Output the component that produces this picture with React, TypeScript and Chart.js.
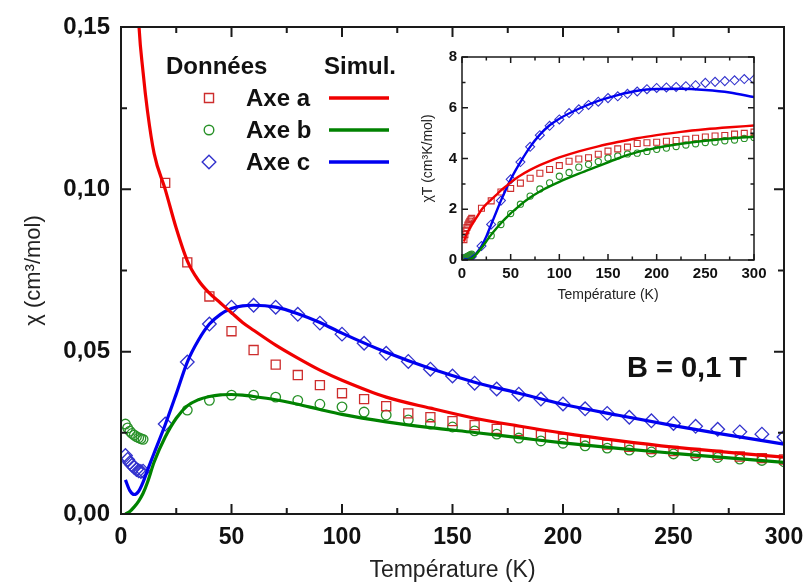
import React, { useEffect, useRef } from 'react';
import { Chart, registerables } from 'chart.js';

Chart.register(...registerables);

const FONT = "Arial, 'Liberation Sans', Helvetica, sans-serif";

// ---------- Main plot: chi (cm3/mol) vs T (K) ----------
const tempLow = [2, 3, 4, 5, 6, 7, 8, 9, 10];
const tempFrom20 = [20, 30, 40, 50, 60, 70, 80, 90, 100, 110, 120, 130, 140, 150, 160, 170, 180, 190, 200, 210, 220, 230, 240, 250, 260, 270, 280, 290, 300];
const tempFrom30 = [30, 40, 50, 60, 70, 80, 90, 100, 110, 120, 130, 140, 150, 160, 170, 180, 190, 200, 210, 220, 230, 240, 250, 260, 270, 280, 290, 300];

// Axe a (data) – only T >= 20 visible in main plot
const chiA = [0.102, 0.0775, 0.067, 0.0563, 0.0505, 0.046, 0.0428, 0.0397, 0.0372, 0.0354, 0.0332, 0.031, 0.0298, 0.0286, 0.0274, 0.0262, 0.0255, 0.0243, 0.0232, 0.0223, 0.0214, 0.0207, 0.02, 0.0194, 0.0188, 0.0182, 0.0177, 0.0172, 0.0168];
// Axe b (data)
const chiBLow = [0.0277, 0.0265, 0.0255, 0.0248, 0.0243, 0.0238, 0.0235, 0.0232, 0.023];
const chiB = [0.032, 0.035, 0.0366, 0.0366, 0.036, 0.035, 0.0338, 0.033, 0.0314, 0.0305, 0.029, 0.0277, 0.0268, 0.0256, 0.0246, 0.0234, 0.0225, 0.0218, 0.021, 0.0203, 0.0197, 0.0191, 0.0185, 0.0179, 0.0174, 0.0169, 0.0165, 0.0161];
// Axe c (data)
const chiCLow = [0.018, 0.0168, 0.0158, 0.015, 0.0143, 0.0137, 0.0133, 0.0131, 0.0132];
const chiC = [0.0277, 0.0468, 0.0585, 0.0637, 0.0643, 0.0637, 0.0615, 0.0588, 0.0554, 0.0526, 0.0495, 0.047, 0.0446, 0.0425, 0.0403, 0.0385, 0.0369, 0.0354, 0.0339, 0.0324, 0.031, 0.0298, 0.0287, 0.0279, 0.027, 0.0261, 0.0253, 0.0246, 0.0237];

// Simulations
const tempSim = [2, 4, 6, 8, 10, 12, 15, 20, 25, 30, 35, 40, 45, 50, 55, 60, 70, 80, 90, 100, 120, 140, 160, 180, 200, 225, 250, 275, 300];
const simChiA = [0.37, 0.26, 0.19, 0.152, 0.136, 0.124, 0.111, 0.1, 0.088, 0.078, 0.072, 0.068, 0.065, 0.062, 0.059, 0.0566, 0.052, 0.048, 0.0443, 0.0412, 0.036, 0.0326, 0.0295, 0.0271, 0.0249, 0.0226, 0.0206, 0.019, 0.0175];
const simChiB = [0.0, 0.0008, 0.0022, 0.004, 0.0064, 0.0098, 0.016, 0.0237, 0.0295, 0.0333, 0.0352, 0.0362, 0.0367, 0.0368, 0.0366, 0.0362, 0.0352, 0.0338, 0.0322, 0.0307, 0.0284, 0.0266, 0.0251, 0.0235, 0.0219, 0.0202, 0.0187, 0.0173, 0.0159];
const simChiC = [0.0105, 0.0072, 0.006, 0.007, 0.0098, 0.0135, 0.0188, 0.0275, 0.037, 0.0468, 0.0535, 0.0585, 0.0615, 0.0633, 0.0641, 0.0643, 0.0637, 0.0617, 0.059, 0.0557, 0.0498, 0.0448, 0.0406, 0.0372, 0.0338, 0.0304, 0.0272, 0.0243, 0.0215];

const mainXTicks = [0, 50, 100, 150, 200, 250, 300];
const mainXMinor = [25, 75, 125, 175, 225, 275];
const mainYTicks = [0, 0.05, 0.1, 0.15];
const mainYMinor = [0.025, 0.075, 0.125];

// ---------- Inset: chiT (cm3 K/mol) vs T ----------
const chiTALow = [0.8, 1.0, 1.15, 1.28, 1.38, 1.46, 1.53, 1.59, 1.64];
const chiTA = [2.04, 2.33, 2.68, 2.82, 3.03, 3.22, 3.42, 3.57, 3.72, 3.89, 3.98, 4.03, 4.17, 4.29, 4.38, 4.45, 4.59, 4.62, 4.64, 4.68, 4.71, 4.76, 4.8, 4.85, 4.89, 4.91, 4.96, 4.99, 5.04];
const chiTBLow = [0.055, 0.08, 0.1, 0.124, 0.146, 0.167, 0.188, 0.209, 0.23];
const chiTB = [0.96, 1.4, 1.83, 2.2, 2.52, 2.8, 3.04, 3.3, 3.45, 3.66, 3.77, 3.88, 4.02, 4.1, 4.18, 4.21, 4.28, 4.36, 4.41, 4.47, 4.53, 4.58, 4.63, 4.65, 4.7, 4.73, 4.79, 4.83];
const chiTCLow = [0.036, 0.05, 0.062, 0.074, 0.086, 0.096, 0.106, 0.118, 0.132];
const chiTC = [0.55, 1.4, 2.34, 3.18, 3.86, 4.46, 4.92, 5.29, 5.54, 5.79, 5.94, 6.11, 6.24, 6.38, 6.45, 6.55, 6.64, 6.73, 6.78, 6.8, 6.82, 6.85, 6.89, 6.98, 7.02, 7.05, 7.08, 7.13, 7.11];

const simChiTA = [0.72, 0.95, 1.12, 1.25, 1.38, 1.5, 1.68, 1.98, 2.2, 2.38, 2.56, 2.74, 2.9, 3.06, 3.2, 3.33, 3.55, 3.74, 3.9, 4.04, 4.28, 4.48, 4.65, 4.8, 4.92, 5.05, 5.15, 5.23, 5.3];
const simChiTB = [0.0, 0.003, 0.013, 0.032, 0.064, 0.118, 0.24, 0.47, 0.74, 1.0, 1.23, 1.45, 1.65, 1.84, 2.0, 2.17, 2.46, 2.7, 2.9, 3.08, 3.4, 3.7, 4.0, 4.25, 4.42, 4.58, 4.7, 4.79, 4.86];
const simChiTC = [0.02, 0.03, 0.036, 0.054, 0.098, 0.16, 0.28, 0.55, 0.93, 1.4, 1.87, 2.34, 2.77, 3.17, 3.53, 3.86, 4.46, 4.94, 5.31, 5.57, 5.96, 6.27, 6.5, 6.67, 6.74, 6.75, 6.7, 6.6, 6.42];

const insetXTicks = [0, 50, 100, 150, 200, 250, 300];
const insetXMinor = [25, 75, 125, 175, 225, 275];
const insetYTicks = [0, 2, 4, 6, 8];
const insetYMinor = [1, 3, 5, 7];

const legendLabels = ['Axe a', 'Axe b', 'Axe c'];

// colours
const RED_PT = 'rgb(205,45,45)';
const RED_LN = 'rgb(240,0,0)';
const GREEN_PT = 'rgb(40,145,40)';
const GREEN_LN = 'rgb(0,130,0)';
const BLUE_PT = 'rgb(50,50,205)';
const BLUE_LN = 'rgb(0,0,240)';

const pts = (xs: number[], ys: number[]) => xs.map((x, i) => ({ x, y: ys[i] }));

function framePlugin(cfg: { xMinor: number[]; yMinor: number[]; major: number; minor: number; lw: number }) {
  return {
    id: 'frameTicks',
    afterDatasetsDraw(chart: any) {
      const { ctx, chartArea, scales } = chart;
      const { left, right, top, bottom } = chartArea;
      const xs = scales.x;
      const ys = scales.y;
      ctx.save();
      ctx.strokeStyle = '#1a1a1a';
      ctx.lineWidth = cfg.lw;
      ctx.beginPath();
      const xTick = (v: number, len: number) => {
        const p = xs.getPixelForValue(v);
        ctx.moveTo(p, bottom);
        ctx.lineTo(p, bottom - len);
        ctx.moveTo(p, top);
        ctx.lineTo(p, top + len);
      };
      const yTick = (v: number, len: number) => {
        const p = ys.getPixelForValue(v);
        ctx.moveTo(left, p);
        ctx.lineTo(left + len, p);
        ctx.moveTo(right, p);
        ctx.lineTo(right - len, p);
      };
      xs.ticks.forEach((t: any) => xTick(t.value, cfg.major));
      cfg.xMinor.forEach((v) => xTick(v, cfg.minor));
      ys.ticks.forEach((t: any) => yTick(t.value, cfg.major));
      cfg.yMinor.forEach((v) => yTick(v, cfg.minor));
      ctx.stroke();
      ctx.strokeRect(left, top, right - left, bottom - top);
      ctx.restore();
    },
  };
}

function drawMarker(ctx: CanvasRenderingContext2D, style: string, x: number, y: number, r: number) {
  ctx.beginPath();
  if (style === 'rect') {
    const s = r * Math.SQRT1_2;
    ctx.rect(x - s, y - s, 2 * s, 2 * s);
  } else if (style === 'circle') {
    ctx.arc(x, y, r, 0, Math.PI * 2);
  } else {
    ctx.moveTo(x, y - r);
    ctx.lineTo(x + r, y);
    ctx.lineTo(x, y + r);
    ctx.lineTo(x - r, y);
    ctx.closePath();
  }
  ctx.stroke();
}

const legendPlugin = {
  id: 'customLegend',
  afterDraw(chart: any) {
    const ctx: CanvasRenderingContext2D = chart.ctx;
    ctx.save();
    ctx.fillStyle = '#111';
    ctx.textBaseline = 'alphabetic';
    ctx.font = `bold 24px ${FONT}`;
    ctx.textAlign = 'left';
    ctx.fillText('Données', 166, 74);
    ctx.fillText('Simul.', 324, 74);
    const rows = [
      { y: 98, style: 'rect', pc: RED_PT, lc: RED_LN, r: 6.4 },
      { y: 130, style: 'circle', pc: GREEN_PT, lc: GREEN_LN, r: 4.8 },
      { y: 162, style: 'rectRot', pc: BLUE_PT, lc: BLUE_LN, r: 6.8 },
    ];
    rows.forEach((row, i) => {
      ctx.fillStyle = '#111';
      ctx.font = `bold 24px ${FONT}`;
      ctx.fillText(legendLabels[i], 246, row.y + 8);
      ctx.strokeStyle = row.pc;
      ctx.lineWidth = 1.4;
      drawMarker(ctx, row.style, 209, row.y, row.r);
      ctx.strokeStyle = row.lc;
      ctx.lineWidth = 3.5;
      ctx.beginPath();
      ctx.moveTo(329, row.y);
      ctx.lineTo(389, row.y);
      ctx.stroke();
    });
    ctx.fillStyle = '#111';
    ctx.font = `bold 29px ${FONT}`;
    ctx.fillText('B = 0,1 T', 627, 377);
    ctx.restore();
  },
};

function lineDs(data: any[], color: string, width: number) {
  return {
    type: 'line' as const,
    data,
    borderColor: color,
    borderWidth: width,
    pointRadius: 0,
    showLine: true,
    fill: false,
    cubicInterpolationMode: 'monotone' as const,
    clip: 0,
  };
}

function pointDs(data: any[], color: string, style: string, r: number, bw: number) {
  return {
    type: 'scatter' as const,
    data,
    showLine: false,
    pointStyle: style,
    pointRadius: r,
    pointBorderWidth: bw,
    pointBorderColor: color,
    pointBackgroundColor: 'rgba(0,0,0,0)',
    borderColor: color,
    backgroundColor: 'rgba(0,0,0,0)',
    clip: 0,
  };
}

export default function App() {
  const mainRef = useRef<HTMLCanvasElement | null>(null);
  const insetRef = useRef<HTMLCanvasElement | null>(null);

  useEffect(() => {
    const mainChart = new Chart(mainRef.current as HTMLCanvasElement, {
      type: 'scatter',
      data: {
        datasets: [
          lineDs(pts(tempSim, simChiA), RED_LN, 3.2),
          lineDs(pts(tempSim, simChiB), GREEN_LN, 3.2),
          lineDs(pts(tempSim, simChiC), BLUE_LN, 3.2),
          pointDs(pts(tempFrom20, chiA), RED_PT, 'rect', 6.4, 1.3),
          pointDs(pts(tempLow, chiBLow).concat(pts(tempFrom30, chiB)), GREEN_PT, 'circle', 4.8, 1.3),
          pointDs(pts(tempLow, chiCLow).concat(pts(tempFrom20, chiC)), BLUE_PT, 'rectRot', 6.8, 1.3),
        ] as any,
      },
      options: {
        responsive: false,
        animation: false,
        devicePixelRatio: 1,
        layout: { padding: { left: 0, right: 22, top: 27, bottom: 0 } },
        plugins: { legend: { display: false }, tooltip: { enabled: false } },
        events: [],
        scales: {
          x: {
            type: 'linear',
            min: 0,
            max: 300,
            afterBuildTicks: (s: any) => {
              s.ticks = mainXTicks.map((v) => ({ value: v }));
            },
            afterFit: (s: any) => {
              s.height = 73;
              s.paddingLeft = 0;
              s.paddingRight = 0;
            },
            grid: { display: false, drawTicks: false },
            border: { display: false },
            ticks: {
              padding: 10,
              color: '#111',
              maxRotation: 0,
              autoSkip: false,
              font: { family: FONT, size: 23, weight: 'bold' },
              callback: (v: any) => String(v),
            },
            title: {
              display: true,
              text: 'Température (K)',
              color: '#222',
              font: { family: FONT, size: 23 },
              padding: { top: 0, bottom: 3 },
            },
          },
          y: {
            type: 'linear',
            min: 0,
            max: 0.15,
            afterBuildTicks: (s: any) => {
              s.ticks = mainYTicks.map((v) => ({ value: v }));
            },
            afterFit: (s: any) => {
              s.width = 121;
              s.paddingTop = 0;
              s.paddingBottom = 0;
            },
            grid: { display: false, drawTicks: false },
            border: { display: false },
            ticks: {
              padding: 11,
              color: '#111',
              autoSkip: false,
              font: { family: FONT, size: 24, weight: 'bold' },
              callback: (v: any) => Number(v).toFixed(2).replace('.', ','),
            },
            title: {
              display: true,
              text: 'χ (cm³/mol)',
              color: '#222',
              font: { family: FONT, size: 22 },
              padding: { top: 21, bottom: 0 },
            },
          },
        },
      } as any,
      plugins: [framePlugin({ xMinor: mainXMinor, yMinor: mainYMinor, major: 10, minor: 6, lw: 2 }), legendPlugin] as any,
    });

    const insetChart = new Chart(insetRef.current as HTMLCanvasElement, {
      type: 'scatter',
      data: {
        datasets: [
          lineDs(pts(tempSim, simChiTA), RED_LN, 2.4),
          lineDs(pts(tempSim, simChiTB), GREEN_LN, 2.4),
          lineDs(pts(tempSim, simChiTC), BLUE_LN, 2.4),
          pointDs(pts(tempLow, chiTALow).concat(pts(tempFrom20, chiTA)), RED_PT, 'rect', 4.2, 1.1),
          pointDs(pts(tempLow, chiTBLow).concat(pts(tempFrom30, chiTB)), GREEN_PT, 'circle', 3.1, 1.1),
          pointDs(pts(tempLow, chiTCLow).concat(pts(tempFrom20, chiTC)), BLUE_PT, 'rectRot', 4.5, 1.1),
        ] as any,
      },
      options: {
        responsive: false,
        animation: false,
        devicePixelRatio: 1,
        layout: { padding: { left: 0, right: 21, top: 22, bottom: 0 } },
        plugins: { legend: { display: false }, tooltip: { enabled: false } },
        events: [],
        scales: {
          x: {
            type: 'linear',
            min: 0,
            max: 300,
            afterBuildTicks: (s: any) => {
              s.ticks = insetXTicks.map((v) => ({ value: v }));
            },
            afterFit: (s: any) => {
              s.height = 55;
              s.paddingLeft = 0;
              s.paddingRight = 0;
            },
            grid: { display: false, drawTicks: false },
            border: { display: false },
            ticks: {
              padding: 5,
              color: '#111',
              maxRotation: 0,
              autoSkip: false,
              font: { family: FONT, size: 15, weight: 'bold' },
              callback: (v: any) => String(v),
            },
            title: {
              display: true,
              text: 'Température (K)',
              color: '#222',
              font: { family: FONT, size: 14 },
              padding: { top: 0, bottom: 11 },
            },
          },
          y: {
            type: 'linear',
            min: 0,
            max: 8,
            afterBuildTicks: (s: any) => {
              s.ticks = insetYTicks.map((v) => ({ value: v }));
            },
            afterFit: (s: any) => {
              s.width = 57;
              s.paddingTop = 0;
              s.paddingBottom = 0;
            },
            grid: { display: false, drawTicks: false },
            border: { display: false },
            ticks: {
              padding: 5,
              color: '#111',
              autoSkip: false,
              font: { family: FONT, size: 15, weight: 'bold' },
              callback: (v: any) => String(v),
            },
            title: {
              display: true,
              text: 'χT (cm³K/mol)',
              color: '#222',
              font: { family: FONT, size: 14 },
              padding: { top: 15, bottom: 0 },
            },
          },
        },
      } as any,
      plugins: [framePlugin({ xMinor: insetXMinor, yMinor: insetYMinor, major: 6, minor: 3.5, lw: 1.5 })] as any,
    });

    return () => {
      mainChart.destroy();
      insetChart.destroy();
    };
  }, []);

  return (
    <div style={{ position: 'absolute', left: 0, top: 0, width: 806, height: 587, background: '#fff' }}>
      <canvas ref={mainRef} width={806} height={587} style={{ position: 'absolute', left: 0, top: 0, display: 'block' }} />
      <canvas ref={insetRef} width={370} height={280} style={{ position: 'absolute', left: 405, top: 35, display: 'block' }} />
    </div>
  );
}
